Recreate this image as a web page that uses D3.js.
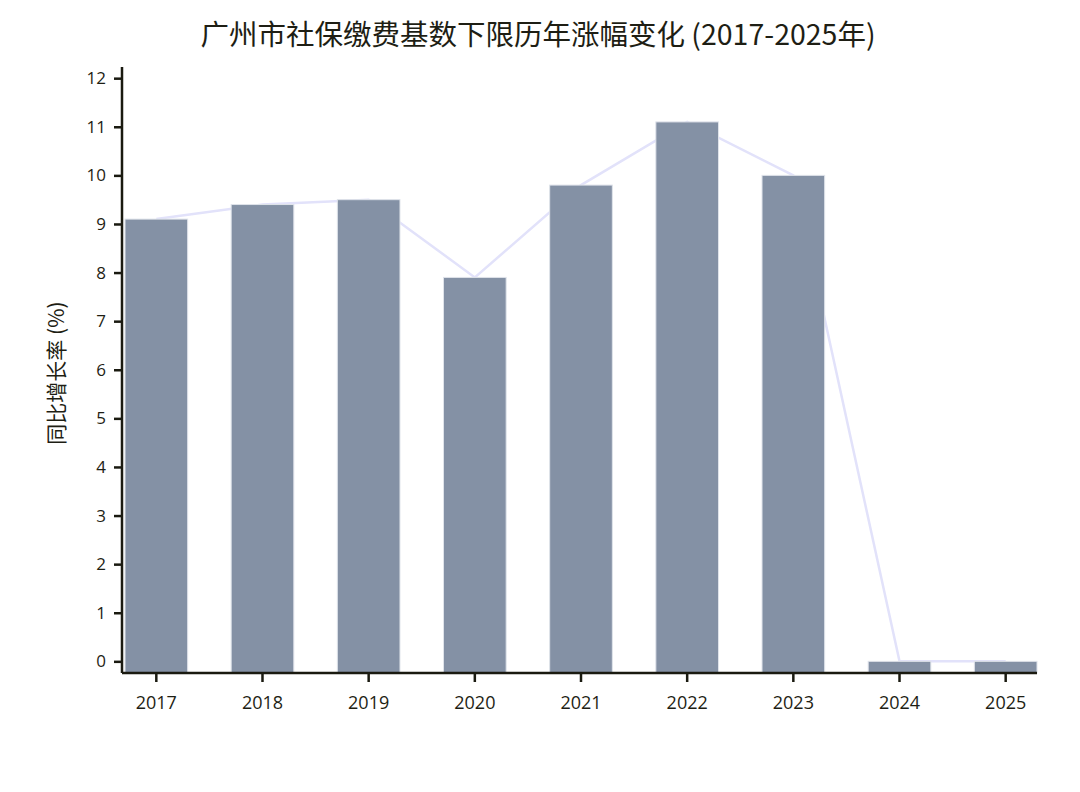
<!DOCTYPE html>
<html><head><meta charset="utf-8">
<script src="https://cdn.jsdelivr.net/npm/d3@7"></script>
<style>
body{margin:0;background:#fff;}
text{fill:#1e1e14;}
.cjk{font-family:"Noto Sans CJK SC","Noto Sans",sans-serif;}
.tick text{font-family:"Open Sans",sans-serif;}
.ya .tick text{font-size:17px;}
.xa .tick text{font-size:18px;}
</style></head>
<body><svg id="c" width="1080" height="792"></svg>
<script>
const years = ["2017","2018","2019","2020","2021","2022","2023","2024","2025"];
const growth = [9.1, 9.4, 9.5, 7.9, 9.8, 11.1, 10.0, 0, 0];
const yTicks = [0,1,2,3,4,5,6,7,8,9,10,11,12];
const title = "广州市社保缴费基数下限历年涨幅变化 (2017-2025年)";
const yLabel = "同比增长率 (%)";

(function(){
const svg = d3.select("#c");
const mL = 122, mR = 1037, mT = 67, mB = 673;

const x = d3.scaleBand().domain(years).range([125, 1037]).paddingInner(0.41).paddingOuter(0);
const y = d3.scaleLinear().domain([-0.24, 12.23]).range([mB, mT]);

// line behind bars
const line = d3.line().x((d,i)=>x(years[i]) + x.bandwidth()/2).y(d=>y(d));
svg.append("path").datum(growth).attr("d", line)
  .attr("fill","none").attr("stroke","#e2e2fa").attr("stroke-width",2.5);

svg.append("g").selectAll("rect").data(growth).join("rect")
  .attr("x",(d,i)=>x(years[i]))
  .attr("width",x.bandwidth())
  .attr("y",d=>y(d))
  .attr("height",d=>mB - y(d))
  .attr("fill","#8491a5")
  .attr("stroke","#dfe3ea").attr("stroke-width",1);

// y axis
const ya = svg.append("g").attr("class","ya").attr("transform",`translate(${mL},0)`)
  .call(d3.axisLeft(y).tickValues(yTicks).tickFormat(d3.format("d")).tickSize(8).tickPadding(8));
ya.select(".domain").attr("d",`M0,${mT}V${mB}`).attr("stroke","#1a1a10").attr("stroke-width",2.5);
ya.selectAll(".tick line").attr("stroke","#1a1a10").attr("stroke-width",2.5);

// x axis
const xa = svg.append("g").attr("class","xa").attr("transform",`translate(0,${mB})`)
  .call(d3.axisBottom(x).tickSize(9).tickPadding(14));
xa.select(".domain").attr("d",`M${mL},0H${mR}`).attr("stroke","#1a1a10").attr("stroke-width",2.5);
xa.selectAll(".tick line").attr("stroke","#1a1a10").attr("stroke-width",2.5);

svg.append("text").attr("class","cjk").attr("x",538).attr("y",45).attr("text-anchor","middle")
  .attr("font-size",28.5).text(title);

svg.append("text").attr("class","cjk").attr("transform","translate(64,373) rotate(-90)")
  .attr("text-anchor","middle").attr("font-size",21).text(yLabel);
})();
</script></body></html>
